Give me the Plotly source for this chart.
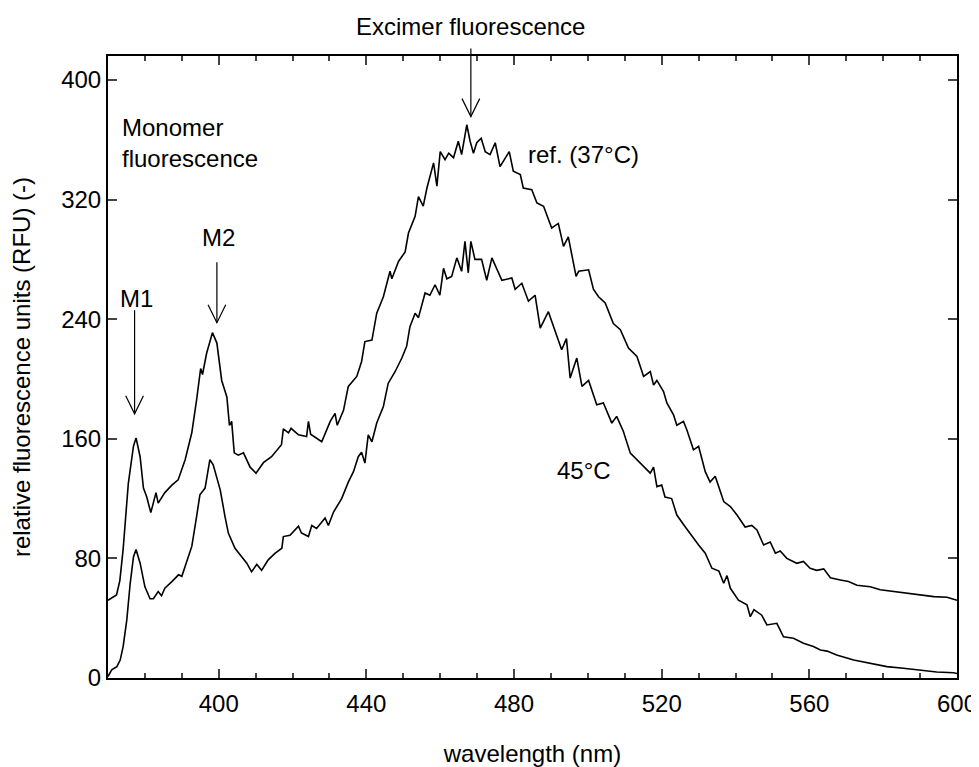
import plotly.graph_objects as go

# ---- data ----
ref_wl = [370.0, 372.3, 373.2, 374.1, 375.5, 376.9, 377.6, 378.7, 379.6, 380.5, 381.6, 383.0, 383.6,
          385.4, 387.3, 389.0, 390.9, 392.7, 394.0, 395.1, 395.6, 396.7, 398.3, 399.5, 400.8, 402.2,
          402.9, 403.5, 404.2, 405.3, 406.7, 408.5, 410.1, 412.1, 414.3, 417.0, 417.5, 418.9, 419.6,
          421.6, 423.8, 424.3, 424.9, 427.9, 430.2, 431.5, 432.1, 433.8, 435.1, 437.4, 438.7, 439.6,
          441.5, 442.8, 444.6, 446.4, 446.9, 448.7, 450.5, 451.4, 453.2, 454.1, 455.4, 456.4, 458.2,
          459.1, 460.0, 461.3, 462.3, 463.6, 464.9, 465.8, 467.2, 468.1, 469.0, 469.9, 471.1, 472.2,
          473.5, 474.9, 476.2, 478.7, 479.8, 481.7, 482.5, 484.8, 486.2, 488.0, 490.2, 492.0, 493.4,
          494.7, 496.8, 497.5, 500.2, 501.5, 502.9, 504.7, 506.9, 508.8, 511.0, 513.3, 515.1, 516.9,
          517.8, 518.7, 520.5, 521.4, 523.2, 524.1, 525.9, 526.8, 528.6, 530.0, 531.8, 533.1, 534.5,
          536.8, 538.6, 540.4, 542.6, 544.4, 545.8, 547.6, 549.4, 550.8, 552.1, 553.9, 556.6, 558.4,
          560.2, 562.0, 563.9, 565.7, 568.4, 570.6, 572.9, 576.5, 579.2, 582.8, 586.4, 590.0, 593.7,
          597.3, 600.0]
ref_val = [52, 55.5, 65, 86, 130, 155, 160.6, 148, 127, 121, 110.6, 124, 117,
           124, 129, 132.5, 146, 164, 186, 207, 203, 217, 231, 224, 199, 188,
           169, 171.6, 150.6, 149, 150.6, 141, 137, 144, 148, 156, 166.6, 164, 167,
           162.6, 161.5, 171.6, 163, 158, 171.6, 177, 169, 179, 195, 201.7, 211.7, 225,
           226, 244, 255, 272, 267, 278.6, 285, 297.6, 308.8, 322, 315.6, 327.7, 344.5,
           329, 352, 346.7, 351, 348, 359, 350, 370, 359, 351, 358, 361, 352,
           350, 358, 342, 352, 339, 336.7, 327.7, 326.6, 317.7, 315.5, 301, 304, 288.7,
           295, 268.6, 272, 273, 260, 255, 250.8, 237, 233, 220.6, 215, 201.7, 205,
           196, 199, 191.6, 184, 176, 169, 171.6, 166, 152.6, 155, 138, 131, 135,
           118, 114.7, 109, 101, 102, 99, 89, 91, 83.5, 85, 80, 76.7, 78,
           73.4, 72, 73, 67, 65.6, 64.5, 62, 61, 59, 57.8, 56.7, 55.5, 54.4,
           54, 52]

t45_wl = [370.0, 371.0, 372.4, 373.3, 374.1, 375.1, 376.0, 376.9, 377.6, 378.7, 380.0, 381.4, 382.3,
          383.6, 384.5, 385.4, 387.3, 389.1, 390.0, 390.9, 392.7, 394.0, 394.9, 396.3, 397.6, 398.5,
          400.4, 401.7, 402.6, 404.4, 405.8, 407.6, 408.9, 410.3, 411.6, 413.4, 415.3, 417.1, 417.5,
          419.3, 421.6, 422.4, 424.3, 425.2, 426.5, 428.8, 429.7, 431.1, 433.3, 435.1, 436.5, 437.8,
          438.7, 439.6, 440.5, 441.5, 442.8, 444.6, 445.9, 447.8, 449.6, 450.9, 451.8, 453.2, 454.1,
          455.9, 457.2, 458.6, 459.9, 460.9, 461.8, 463.1, 464.5, 465.8, 466.7, 467.6, 468.3, 469.4,
          471.2, 472.6, 474.0, 475.3, 476.7, 479.4, 480.3, 482.1, 483.9, 485.7, 487.1, 489.3, 491.1,
          492.9, 494.2, 495.2, 497.0, 498.4, 500.2, 502.4, 504.2, 506.5, 507.8, 509.6, 511.5, 513.7,
          516.0, 516.9, 517.8, 518.7, 520.0, 520.9, 522.7, 524.1, 526.4, 528.2, 530.0, 531.8, 533.6,
          535.5, 536.8, 537.7, 538.6, 540.8, 543.1, 544.0, 545.0, 547.1, 548.5, 551.2, 553.0, 555.7,
          558.4, 561.1, 563.0, 564.8, 567.4, 572.0, 576.5, 581.0, 585.5, 590.0, 594.5, 599.1, 600.0]
t45_val = [1, 5.4, 7.6, 12, 21, 39, 63, 81, 86, 76.8, 61, 53, 53,
           57.8, 55, 60, 64.5, 69, 68, 74.5, 88, 108, 122.5, 127, 146, 142.6,
           125.8, 108, 96.9, 86.8, 82.3, 76.8, 71, 76, 72, 79, 83.5, 86.8, 94.6,
           95.5, 101.5, 97, 94.6, 102, 100, 107, 102, 111, 120, 131, 138, 148,
           151, 143.7, 162.6, 158, 170.5, 181.6, 197, 205, 214, 221.8, 235, 244, 241,
           257.5, 256, 263, 256, 274, 267, 268.6, 281, 272, 292, 271, 292, 280,
           280, 266, 281, 274, 266, 267.5, 260, 264, 252, 256, 234, 245, 232,
           219.5, 227, 200.6, 214, 195, 199, 182.7, 184, 170.5, 175, 165, 150.4, 145,
           139, 137, 141, 128, 129, 121, 120, 109, 101, 94.6, 89, 83.5, 73.4,
           71.5, 63.4, 68.5, 60, 52, 48.9, 41, 45.7, 42, 35.5, 36.6, 27.6, 26.6,
           23.2, 21, 18.7, 18, 15.4, 12, 9.8, 7.6, 6.5, 5.4, 4, 3.5, 3]

x_ticks = [400, 440, 480, 520, 560, 600]
y_ticks = [0, 80, 160, 240, 320, 400]
X_RANGE = [370, 600]
Y_RANGE = [0, 416]

# annotation arrows: x position, shaft top, tip (data units)
arrow_x = [377.2, 399.5, 468.3]
arrow_top = [246, 278, 421]
arrow_tip = [176.7, 237.6, 375.5]

FONT = "Liberation Sans, Arial, sans-serif"
FS = 24

fig = go.Figure()
fig.add_trace(go.Scatter(x=ref_wl, y=ref_val, mode="lines", name="ref. (37°C)",
                         line=dict(color="black", width=1.6), showlegend=False))
fig.add_trace(go.Scatter(x=t45_wl, y=t45_val, mode="lines", name="45°C",
                         line=dict(color="black", width=1.6), showlegend=False))


def to_paper(v):
    return (v - Y_RANGE[0]) / (Y_RANGE[1] - Y_RANGE[0])


shapes = []
head_dy = 12  # data units
for ax_, top, tip in zip(arrow_x, arrow_top, arrow_tip):
    shapes.append(dict(type="line", xref="x", yref="paper", x0=ax_, x1=ax_,
                       y0=to_paper(top), y1=to_paper(tip),
                       line=dict(color="black", width=1.2), layer="above"))
    shapes.append(dict(type="path", xref="x", yref="paper",
                       path=(f"M {ax_-2.4},{to_paper(tip+head_dy)} L {ax_},{to_paper(tip)} "
                             f"L {ax_+2.4},{to_paper(tip+head_dy)}"),
                       line=dict(color="black", width=1.2), layer="above"))

annotations = [
    dict(x=377.6, y=254, text="M1", showarrow=False, xref="x", yref="y"),
    dict(x=399.8, y=294.5, text="M2", showarrow=False, xref="x", yref="y"),
    dict(x=373.3, y=357.5, text="Monomer<br>fluorescence", showarrow=False, xref="x", yref="y",
         xanchor="left", align="left", yanchor="middle"),
    dict(x=468.3, y=1.047, text="Excimer fluorescence", showarrow=False, xref="x", yref="paper",
         yanchor="middle"),
    dict(x=498.7, y=350, text="ref. (37°C)", showarrow=False, xref="x", yref="y"),
    dict(x=499, y=139, text="45°C", showarrow=False, xref="x", yref="y"),
]
for a in annotations:
    a["font"] = dict(family=FONT, size=FS, color="black")

fig.update_layout(
    width=971, height=759,
    margin=dict(l=100, r=22, t=48, b=89),
    paper_bgcolor="white", plot_bgcolor="white",
    font=dict(family=FONT, size=FS, color="black"),
    shapes=shapes, annotations=annotations,
    xaxis=dict(range=X_RANGE, tickvals=x_ticks, ticks="inside", ticklen=9, tickwidth=1.5,
               showline=True, linewidth=2, linecolor="black", mirror="ticks",
               showgrid=False, zeroline=False, ticklabelstandoff=3, automargin=False,
               minor=dict(dtick=10, tick0=370, ticks="inside", ticklen=5, tickwidth=1.5,
                          showgrid=False),
               title=dict(text="wavelength (nm)", standoff=32, font=dict(size=FS)),
               tickfont=dict(size=FS)),
    yaxis=dict(range=Y_RANGE, tickvals=y_ticks, ticks="inside", ticklen=9, tickwidth=1.5,
               showline=True, linewidth=2, linecolor="black", mirror="ticks",
               showgrid=False, zeroline=False, automargin=False,
               title=dict(text="relative fluorescence units (RFU) (-)", standoff=26,
                          font=dict(size=FS)),
               tickfont=dict(size=FS)),
)

fig.write_html("out.html")
